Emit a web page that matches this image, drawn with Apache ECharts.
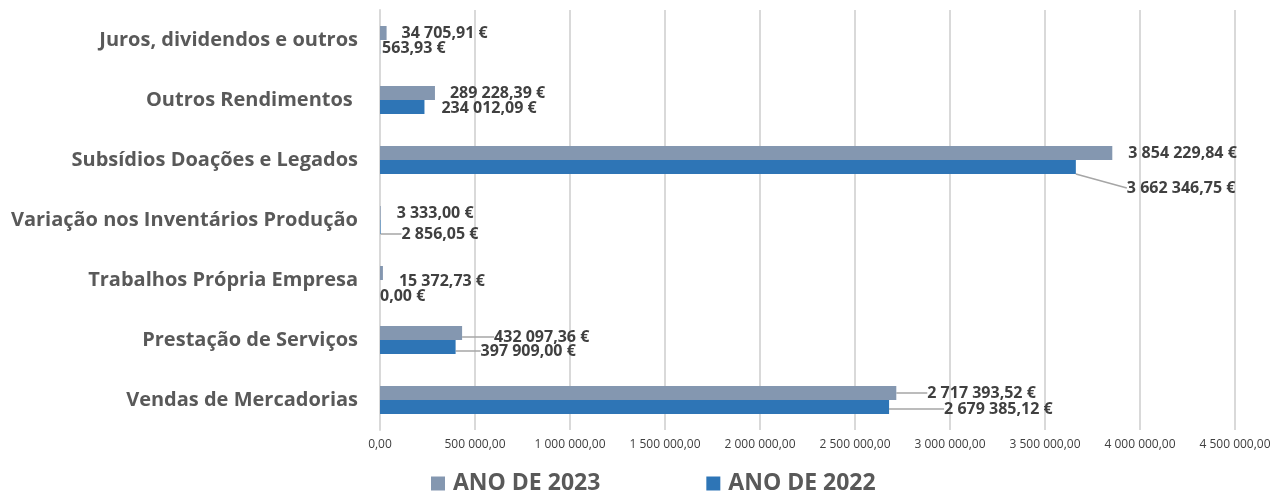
<!DOCTYPE html>
<html>
<head>
<meta charset="utf-8">
<script src="https://cdn.jsdelivr.net/npm/echarts@6/dist/echarts.min.js"></script>
<style>
html, body { margin: 0; padding: 0; background: #fff; }
#chart { width: 1279px; height: 494px; }
</style>
</head>
<body>
<div id="chart"></div>
<script>
// categories bottom -> top
var categorias = ['Vendas de Mercadorias', 'Prestação de Serviços', 'Trabalhos Própria Empresa',
    'Variação nos Inventários Produção', 'Subsídios Doações e Legados', 'Outros Rendimentos ',
    'Juros, dividendos e outros'];
var ano2023 = [2717393.52, 432097.36, 15372.73, 3333.00, 3854229.84, 289228.39, 34705.91];
var ano2022 = [2679385.12, 397909.00, 0.00, 2856.05, 3662346.75, 234012.09, 563.93];

// label nudges [dx, dy] and which labels get a leader line
var nudge2023 = [[26, 0], [27, 4], [11, 8], [11, 0], [11, 0], [10, 0], [10, 0]];
var nudge2022 = [[50, 2], [20, 4], [-5, 9], [16, 7], [46, 21], [12, 1], [-3, 1]];
var linhas2023 = [0, 1];
var linhas2022 = [0, 1, 3, 4];

function fmt(v) {
    var p = v.toFixed(2).split('.');
    return p[0].replace(/\B(?=(\d{3})+(?!\d))/g, ' ') + ',' + p[1];
}

function build(vals, linhas) {
    return vals.map(function (v, i) {
        return linhas.indexOf(i) >= 0 ? { value: v, labelLine: { show: true } } : v;
    });
}

var labelStyle = {
    show: true,
    position: 'right',
    distance: 5,
    color: '#404040',
    fontWeight: 'bold',
    fontSize: 16,
    fontFamily: 'Open Sans',
    formatter: function (p) { return fmt(p.value) + ' €'; }
};

var myChart = echarts.init(document.getElementById('chart'));
var option = {
    animation: false,
    grid: { left: 380, right: 44, top: 10, bottom: 64 },
    legend: {
        data: ['ANO DE 2023', 'ANO DE 2022'],
        bottom: -6,
        left: 426,
        itemGap: 106,
        itemWidth: 14,
        itemHeight: 14,
        icon: 'rect',
        textStyle: { color: '#595959', fontWeight: 'bold', fontSize: 23, fontFamily: 'Open Sans',
            padding: [0, 0, 0, 3] }
    },
    xAxis: {
        type: 'value',
        min: 0,
        max: 4500000,
        interval: 500000,
        axisLine: { show: false },
        axisTick: { show: false },
        splitLine: { lineStyle: { color: '#d9d9d9', width: 2 } },
        axisLabel: {
            color: '#404040',
            fontSize: 12,
            fontFamily: 'Open Sans',
            margin: 9,
            formatter: function (v) { return fmt(v); }
        }
    },
    yAxis: {
        type: 'category',
        data: categorias,
        axisTick: { show: false },
        axisLine: { lineStyle: { color: '#d9d9d9', width: 2 } },
        axisLabel: {
            color: '#595959',
            fontWeight: 'bold',
            fontSize: 20,
            fontFamily: 'Open Sans',
            margin: 22
        }
    },
    series: [
        {
            name: 'ANO DE 2023',
            type: 'bar',
            barWidth: 14,
            barGap: '0%',
            itemStyle: { color: '#8497B0' },
            label: labelStyle,
            labelLine: { show: false, lineStyle: { color: '#a6a6a6', width: 1.5 } },
            labelLayout: function (p) { var n = nudge2023[p.dataIndex]; return { dx: n[0], dy: n[1] }; },
            data: build(ano2023, linhas2023)
        },
        {
            name: 'ANO DE 2022',
            type: 'bar',
            barWidth: 14,
            barGap: '0%',
            itemStyle: { color: '#2E75B6' },
            label: labelStyle,
            labelLine: { show: false, lineStyle: { color: '#a6a6a6', width: 1.5 } },
            labelLayout: function (p) { var n = nudge2022[p.dataIndex]; return { dx: n[0], dy: n[1] }; },
            data: build(ano2022, linhas2022)
        }
    ]
};
myChart.setOption(option);
</script>
</body>
</html>
